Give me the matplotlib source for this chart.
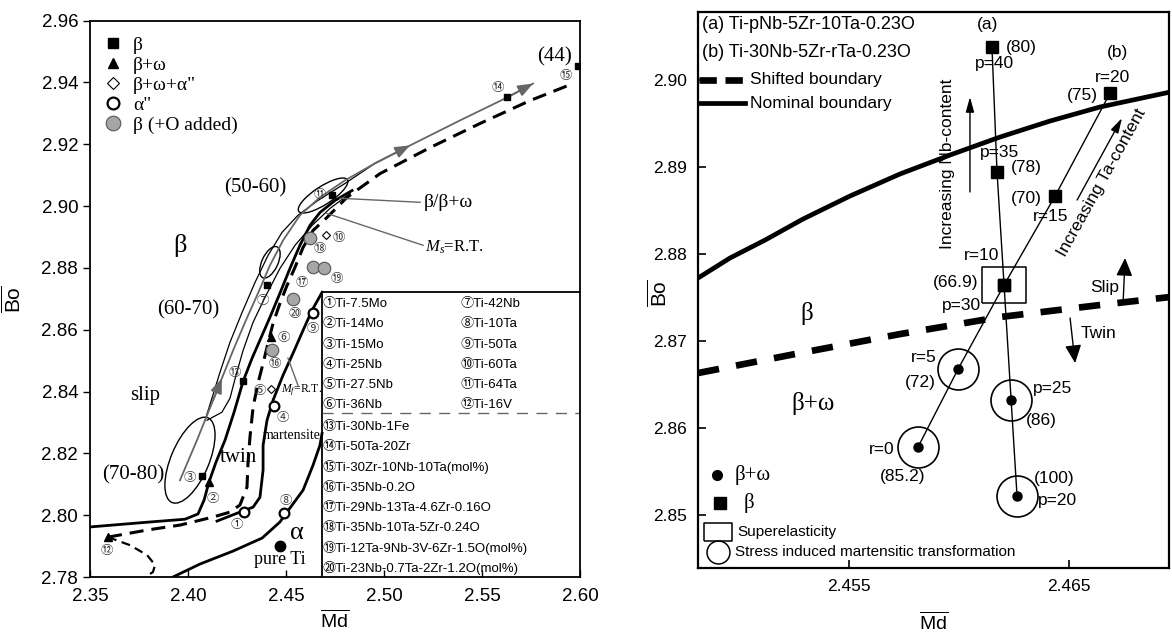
import matplotlib
matplotlib.use('Agg')
import matplotlib.pyplot as plt
from matplotlib.lines import Line2D
from matplotlib.patches import Ellipse
from matplotlib.path import Path
from matplotlib import transforms

plt.rcParams['mathtext.fontset'] = 'custom'
plt.rcParams['mathtext.rm'] = 'Liberation Serif'
plt.rcParams['mathtext.it'] = 'Liberation Serif:italic'
plt.rcParams['mathtext.sf'] = 'Liberation Sans'
plt.rcParams['font.family'] = ['Liberation Sans', 'DejaVu Sans']

SANS = ['Liberation Sans', 'DejaVu Sans']
SERIF = ['Liberation Serif', 'DejaVu Serif']
CIRC = ['Liberation Sans', 'Noto Sans CJK JP']
GRAY = '#666666'

# ---------------- left: Bo-Md map of binary / multi-component alloys ----------------
alloy_no = list(range(1, 21))
alloy_name = ['Ti-7.5Mo', 'Ti-14Mo', 'Ti-15Mo', 'Ti-25Nb', 'Ti-27.5Nb', 'Ti-36Nb',
              'Ti-42Nb', 'Ti-10Ta', 'Ti-50Ta', 'Ti-60Ta', 'Ti-64Ta', 'Ti-16V',
              'Ti-30Nb-1Fe', 'Ti-50Ta-20Zr', 'Ti-30Zr-10Nb-10Ta(mol%)', 'Ti-35Nb-0.2O',
              'Ti-29Nb-13Ta-4.6Zr-0.16O', 'Ti-35Nb-10Ta-5Zr-0.24O',
              'Ti-12Ta-9Nb-3V-6Zr-1.5O(mol%)', 'Ti-23Nb-0.7Ta-2Zr-1.2O(mol%)']
alloy_md = [2.4286, 2.4107, 2.4071, 2.4439, 2.4423, 2.4423, 2.4403, 2.4490, 2.4638, 2.4704,
            2.4735, 2.3592, 2.4281, 2.5628, 2.5990, 2.4429, 2.4638, 2.4622, 2.4694, 2.4536]
alloy_bo = [2.8010, 2.8107, 2.8126, 2.8353, 2.8407, 2.8575, 2.8743, 2.8007, 2.8653, 2.8905,
            2.9037, 2.7929, 2.8433, 2.9351, 2.9454, 2.8533, 2.8802, 2.8895, 2.8798, 2.8698]
alloy_phase = ['a2', 'bw', 'b', 'a2', 'bwa', 'bw', 'b', 'a2', 'a2', 'bwa',
               'b', 'bw', 'b', 'b', 'b', 'bo', 'bo', 'bo', 'bo', 'bo']
pure_ti = (2.4469, 2.7900)

# boundary lines (Md, Bo)
bw_md = [2.3500, 2.3806, 2.3985, 2.4051, 2.4082, 2.4107, 2.4143, 2.4189, 2.4235, 2.4281,
         2.4327, 2.4367, 2.4418, 2.4469, 2.4520, 2.4571, 2.4622, 2.4673, 2.4750, 2.4837]
bw_bo = [2.7962, 2.7978, 2.7987, 2.8004, 2.8049, 2.8107, 2.8172, 2.8243, 2.8333, 2.8433,
         2.8508, 2.8566, 2.8640, 2.8718, 2.8798, 2.8873, 2.8937, 2.8979, 2.9018, 2.9050]
ms_md = [2.3592, 2.3791, 2.3959, 2.4128, 2.4214, 2.4265, 2.4301, 2.4306, 2.4316, 2.4332,
         2.4357, 2.4383, 2.4408, 2.4434, 2.4469, 2.4505, 2.4546, 2.4587, 2.4638, 2.4709,
         2.4811, 2.4980, 2.5235, 2.5490, 2.5745, 2.5964]
ms_bo = [2.7929, 2.7952, 2.7968, 2.7994, 2.8010, 2.8033, 2.8091, 2.8168, 2.8252, 2.8349,
         2.8427, 2.8491, 2.8556, 2.8621, 2.8685, 2.8743, 2.8802, 2.8866, 2.8921, 2.8963,
         2.9028, 2.9105, 2.9189, 2.9267, 2.9341, 2.9396]
nose_md = [2.3592, 2.3704, 2.3791, 2.3832, 2.3821, 2.3781]
nose_bo = [2.7929, 2.7903, 2.7871, 2.7839, 2.7816, 2.7800]
mf_md = [2.4148, 2.4265, 2.4332, 2.4367, 2.4383, 2.4383, 2.4403, 2.4434, 2.4485, 2.4536,
         2.4587, 2.4633, 2.4684]
mf_bo = [2.7981, 2.8010, 2.8026, 2.8058, 2.8146, 2.8226, 2.8307, 2.8372, 2.8453, 2.8524,
         2.8598, 2.8663, 2.8721]
alpha_md = [2.3923, 2.4061, 2.4230, 2.4378, 2.4469, 2.4520, 2.4587, 2.4638, 2.4673, 2.4684]
alpha_bo = [2.7800, 2.7842, 2.7884, 2.7926, 2.7978, 2.8023, 2.8081, 2.8162, 2.8226, 2.8265]
# deformation-mode band and trend line
trend_md = [2.3959, 2.4046, 2.4128, 2.4173, 2.4230, 2.4291, 2.4357, 2.4418, 2.4485, 2.4571,
            2.4673, 2.4801, 2.4954, 2.5133, 2.5388, 2.5628, 2.5760]
trend_bo = [2.8113, 2.8243, 2.8372, 2.8443, 2.8533, 2.8624, 2.8718, 2.8808, 2.8889, 2.8970,
            2.9028, 2.9083, 2.9138, 2.9196, 2.9277, 2.9351, 2.9396]
band1_md = [2.4087, 2.4122, 2.4163, 2.4214, 2.4276, 2.4342, 2.4408, 2.4480, 2.4561, 2.4663,
            2.4801, 2.4954]
band1_bo = [2.8307, 2.8378, 2.8462, 2.8559, 2.8656, 2.8753, 2.8840, 2.8915, 2.8970, 2.9018,
            2.9073, 2.9138]
band2_md = [2.4097, 2.4173, 2.4214, 2.4245, 2.4281, 2.4332, 2.4393, 2.4469, 2.4546, 2.4633,
            2.4724, 2.4827]
band2_bo = [2.8307, 2.8333, 2.8378, 2.8453, 2.8533, 2.8624, 2.8705, 2.8798, 2.8873, 2.8937,
            2.8992, 2.9041]
# e/a ranges and the centres of their outlines
groups = ['(70-80)', '(60-70)', '(50-60)']
group_md = [2.4010, 2.4418, 2.4689]
group_bo = [2.8178, 2.8818, 2.9034]

# ---------------- right: Ti-Nb-Zr-Ta-O series ----------------
a_p = [20, 25, 30, 35, 40]
a_md = [2.46264, 2.46237, 2.46205, 2.46173, 2.46150]
a_bo = [2.85218, 2.86322, 2.87644, 2.88943, 2.90379]
a_val = [100, 86, 66.9, 78, 80]
b_r = [0, 5, 10, 15, 20]
b_md = [2.45814, 2.45996, 2.46205, 2.46437, 2.46687]
b_bo = [2.85782, 2.86678, 2.87644, 2.88667, 2.89851]
b_val = [85.2, 72, 66.9, 70, 75]
a_phase = ['bw', 'bw', 'b', 'b', 'b']
b_phase = ['bw', 'bw', 'b', 'b', 'b']
nominal_md = [2.44814, 2.44959, 2.45119, 2.45291, 2.45505, 2.45732, 2.45959, 2.46187,
              2.46414, 2.46641, 2.46960]
nominal_bo = [2.87724, 2.87954, 2.88161, 2.88402, 2.88667, 2.88920, 2.89138, 2.89345,
              2.89529, 2.89690, 2.89862]
shifted_md = [2.44814, 2.45278, 2.45732, 2.46187, 2.46641, 2.46960]
shifted_bo = [2.86632, 2.86862, 2.87080, 2.87276, 2.87414, 2.87506]

fig = plt.figure(figsize=(11.72, 6.35), dpi=100)
ax1 = fig.add_axes([0.0768, 0.0913, 0.4181, 0.8764])
ax2 = fig.add_axes([0.5956, 0.1055, 0.4019, 0.8756])

# ======== left panel ========
ax = ax1
ax.set_xlim(2.35, 2.60)
ax.set_ylim(2.78, 2.96)
ax.set_xticks([2.35, 2.40, 2.45, 2.50, 2.55, 2.60])
ax.set_yticks([2.78, 2.80, 2.82, 2.84, 2.86, 2.88, 2.90, 2.92, 2.94, 2.96])
ax.xaxis.set_major_formatter(plt.FormatStrFormatter('%.2f'))
ax.yaxis.set_major_formatter(plt.FormatStrFormatter('%.2f'))
ax.tick_params(axis='x', direction='in', length=5, width=1, labelsize=13.5, pad=8)
ax.tick_params(axis='y', direction='out', length=5, width=1, labelsize=13.5)
for s in ax.spines.values():
    s.set_linewidth(1.3)
ax.set_xlabel(r'$\overline{\mathsf{Md}}$', fontsize=14)
ax.xaxis.set_label_coords(0.5, -0.058)
ax.set_ylabel(r'$\overline{\mathsf{Bo}}$', fontsize=15, labelpad=12)

ax.plot(bw_md, bw_bo, color='k', lw=2.0)
ax.plot(ms_md, ms_bo, color='k', lw=2.2, ls=(0, (4.6, 2.6)))
ax.plot(nose_md, nose_bo, color='k', lw=1.6, ls=(0, (4, 2.5)))
ax.plot(mf_md, mf_bo, color='k', lw=2.0)
ax.plot(alpha_md, alpha_bo, color='k', lw=2.0)
ax.plot(band1_md, band1_bo, color='k', lw=0.9)
ax.plot(band2_md, band2_bo, color='k', lw=0.9)
ax.plot(trend_md, trend_bo, color=GRAY, lw=1.3)
for i in (3, 13, 16):
    ax.annotate('', xy=(trend_md[i], trend_bo[i]), xytext=(trend_md[i - 1], trend_bo[i - 1]),
                arrowprops=dict(arrowstyle='-|>,head_length=0.9,head_width=0.35',
                                color=GRAY, lw=1.3, shrinkA=0, shrinkB=0))

# composition-range ellipses, drawn in screen inches around data centres
ell_size = [(0.92, 0.38, 67), (0.34, 0.16, 65), (0.58, 0.18, 33)]
for (w, h, ang), cx, cy in zip(ell_size, group_md, group_bo):
    tr = fig.dpi_scale_trans + transforms.ScaledTranslation(cx, cy, ax.transData)
    ax.add_patch(Ellipse((0, 0), w, h, angle=ang, transform=tr, fill=False, ec='k', lw=1.0))

# legend table of alloys
tx0 = 2.4684
ax.plot([tx0, tx0, 2.60], [2.78, 2.8721, 2.8721], color='k', lw=1.3)
ax.plot([tx0, 2.60], [2.8330, 2.8330], color=GRAY, lw=1.0, ls=(0, (8, 6)))
rows_top = [2.8682 - 0.00652 * k for k in range(6)]
rows_bot = [2.8285 - 0.00652 * k for k in range(8)]
for k in range(6):
    ax.text(tx0 + 0.0003, rows_top[k], chr(0x2460 + k) + alloy_name[k],
            family=CIRC, fontsize=9.5, va='center', ha='left')
    ax.text(2.5388, rows_top[k], chr(0x2460 + 6 + k) + alloy_name[6 + k],
            family=CIRC, fontsize=9.5, va='center', ha='left')
for k in range(8):
    ax.text(tx0 + 0.0003, rows_bot[k], chr(0x2460 + 12 + k) + alloy_name[12 + k],
            family=CIRC, fontsize=9.5, va='center', ha='left')

# alloy points
style = {
    'b': dict(marker='s', ms=5, mfc='k', mec='k'),
    'bw': dict(marker='^', ms=6, mfc='k', mec='k'),
    'bwa': dict(marker='D', ms=4.5, mfc='white', mec='k', mew=0.8),
    'a2': dict(marker='o', ms=7, mfc='white', mec='k', mew=1.6),
    'bo': dict(marker='o', ms=9, mfc='#a6a6a6', mec='#555555', mew=0.8),
}
for ph, st in style.items():
    xs = [m for m, p in zip(alloy_md, alloy_phase) if p == ph]
    ys = [b for b, p in zip(alloy_bo, alloy_phase) if p == ph]
    ax.plot(xs, ys, ls='none', zorder=5, **st)
ax.plot(*pure_ti, marker='o', ms=7.5, color='k', ls='none', zorder=5)

num_off = [(-5, -9), (3, -12), (-9, -1), (6, -8), (-8, -1), (9, 0), (-3, -11), (1.5, 9),
           (0, -11), (9, -1.5), (-9, 0), (-1, -9.5), (-6, 6.5), (-7, 7), (-9, -7),
           (2, -9.5), (-8, -11), (7, -7), (9, -7), (1.5, -10)]
for n, m, b, off in zip(alloy_no, alloy_md, alloy_bo, num_off):
    ax.annotate(chr(0x245F + n), (m, b), xytext=off, textcoords='offset points',
                family=['Noto Sans CJK JP'], fontsize=9, ha='center', va='center',
                color='#333333', zorder=6)

ax.annotate('(44)', (alloy_md[14], alloy_bo[14]), xytext=(-17, 6), textcoords='offset points',
            family=SERIF, fontsize=15, ha='center', va='center')
ax.annotate('pure Ti', pure_ti, xytext=(0, -9.5), textcoords='offset points',
            family=SERIF, fontsize=13, ha='center', va='center')

for txt, x, y, fs in [('(50-60)', 2.4342, 2.9060, 15), ('β', 2.3959, 2.8873, 19),
                      ('(60-70)', 2.4000, 2.8663, 15), ('slip', 2.3781, 2.8388, 15),
                      ('(70-80)', 2.3719, 2.8130, 15), ('twin', 2.4255, 2.8188, 15),
                      ('martensite', 2.4531, 2.8259, 10), ('α', 2.4556, 2.7942, 19)]:
    ax.text(x, y, txt, family=SERIF, fontsize=fs, ha='center', va='center')

ax.plot([2.4776, 2.5184], [2.9025, 2.9012], color=GRAY, lw=1.0)
ax.plot([2.4709, 2.5199], [2.8976, 2.8873], color=GRAY, lw=1.0)
ax.plot([2.4510, 2.4561], [2.8508, 2.8420], color=GRAY, lw=1.0)
ax.text(2.5204, 2.9012, 'β/β+ω', family=SERIF, fontsize=14, va='center')
ax.text(2.5209, 2.8866, r'$M_s$=R.T.', family=SERIF, fontsize=12, va='center')
ax.text(2.4475, 2.8404, r'$M_f$=R.T.', family=SERIF, fontsize=8.5, va='center')

handles = [Line2D([], [], ls='none', marker=style[k]['marker'], ms=style[k]['ms'] + 1.5,
                  mfc=style[k]['mfc'], mec=style[k]['mec'], mew=style[k].get('mew', 1))
           for k in ('b', 'bw', 'bwa', 'a2', 'bo')]
ax.legend(handles, ['β', 'β+ω', 'β+ω+α"', 'α"', 'β (+O added)'], loc='upper left',
          bbox_to_anchor=(0.0, 0.993), frameon=False, prop=dict(family=SERIF, size=14),
          labelspacing=0.12, handletextpad=0.4, handlelength=1.2, borderaxespad=0.2)

# ======== right panel ========
ax = ax2
ax.set_xlim(2.44814, 2.46955)
ax.set_ylim(2.84391, 2.90782)
ax.set_xticks([2.455, 2.465])
ax.set_yticks([2.85, 2.86, 2.87, 2.88, 2.89, 2.90])
ax.xaxis.set_major_formatter(plt.FormatStrFormatter('%.3f'))
ax.yaxis.set_major_formatter(plt.FormatStrFormatter('%.2f'))
ax.tick_params(direction='in', length=6, width=1.2, labelsize=12.5, pad=8)
for s in ax.spines.values():
    s.set_linewidth(1.6)
ax.set_xlabel(r'$\overline{\mathsf{Md}}$', fontsize=14)
ax.xaxis.set_label_coords(0.5, -0.077)
ax.set_ylabel(r'$\overline{\mathsf{Bo}}$', fontsize=15)
ax.yaxis.set_label_coords(-0.058, 0.495)

ax.plot(nominal_md, nominal_bo, color='k', lw=3.4)
ax.plot(shifted_md, shifted_bo, color='k', lw=4.8, ls=(0, (3.2, 2.6)))
ax.plot(a_md, a_bo, color='k', lw=1.0)
ax.plot(b_md, b_bo, color='k', lw=1.0)

box = Path([(-0.5, -0.4), (0.5, -0.4), (0.5, 0.4), (-0.5, 0.4), (-0.5, -0.4)])
key_box = Path([(-0.5, -0.32), (0.5, -0.32), (0.5, 0.32), (-0.5, 0.32), (-0.5, -0.32)])
for md, bo, ph in zip(a_md + b_md, a_bo + b_bo, a_phase + b_phase):
    if ph == 'b':
        ax.plot(md, bo, marker='s', ms=8.5, color='k', ls='none', zorder=5)
    else:
        ax.plot(md, bo, marker='o', ms=6.5, color='k', ls='none', zorder=5)
        ax.plot(md, bo, marker='o', ms=29.5, mfc='none', mec='k', mew=1.2, ls='none', zorder=4)
ax.plot(a_md[2], a_bo[2], marker=box, ms=32, mfc='none', mec='k', mew=1.1, ls='none')

lab = dict(textcoords='offset points', fontsize=12.5, ha='center', va='center', family=SANS)
a_off_val = [(27, 13), (22, -14.5), (-35, 1.5), (21, 3), (21, 0)]
a_off_p = [(29, -3), (30, 8), (-31, -14.5), (1.5, 13.7), (1.5, -11.5)]
for md, bo, p, v, ov, op in zip(a_md, a_bo, a_p, a_val, a_off_val, a_off_p):
    ax.annotate(f'({v:g})', (md, bo), xytext=ov, **lab)
    ax.annotate(f'p={p}', (md, bo), xytext=op, **lab)
b_off_val = [(-11, -21.5), (-27, -9.5), None, (-21, -2), (-20, -1.5)]
b_off_r = [(-26, -2), (-25, 8), (-16, 21.5), (-3.5, -15), (1.5, 11.5)]
for md, bo, r, v, ov, orr in zip(b_md, b_bo, b_r, b_val, b_off_val, b_off_r):
    if ov is not None:
        ax.annotate(f'({v:g})', (md, bo), xytext=ov, **lab)
    ax.annotate(f'r={r}', (md, bo), xytext=orr, **lab)
ax.annotate('(a)', (a_md[-1], a_bo[-1]), xytext=(-3, 16), **lab)
ax.annotate('(b)', (b_md[-1], b_bo[-1]), xytext=(5, 29), **lab)

ax.text(2.45309, 2.87322, 'β', family=SERIF, fontsize=18, ha='center', va='center')
ax.text(2.45337, 2.86287, 'β+ω', family=SERIF, fontsize=18, ha='center', va='center')

thin = dict(arrowstyle='-|>,head_length=0.9,head_width=0.25', color='k', lw=1.0,
            shrinkA=0, shrinkB=0)
bold = dict(arrowstyle='-|>,head_length=1.1,head_width=0.5', color='k', lw=1.0,
            shrinkA=0, shrinkB=0)
ax.annotate('', xy=(2.46050, 2.89805), xytext=(2.46050, 2.88713), arrowprops=thin)
ax.text(2.45946, 2.89034, 'Increasing Nb-content', rotation=90, fontsize=12.5,
        ha='center', va='center')
ax.annotate('', xy=(2.46741, 2.89563), xytext=(2.46537, 2.88621), arrowprops=thin)
ax.text(2.46650, 2.88816, 'Increasing Ta-content', rotation=61, fontsize=12.5,
        ha='center', va='center')
ax.annotate('', xy=(2.46755, 2.87954), xytext=(2.46746, 2.87437), arrowprops=bold)
ax.text(2.46664, 2.87621, 'Slip', fontsize=12.5, ha='center', va='center')
ax.annotate('', xy=(2.46528, 2.86747), xytext=(2.46505, 2.87264), arrowprops=bold)
ax.text(2.46632, 2.87092, 'Twin', fontsize=12.5, ha='center', va='center')

# key, top left
ax.text(0.008, 0.977, '(a) Ti-pNb-5Zr-10Ta-0.23O', transform=ax.transAxes,
        fontsize=13, va='center')
ax.text(0.008, 0.928, '(b) Ti-30Nb-5Zr-rTa-0.23O', transform=ax.transAxes,
        fontsize=13, va='center')
ax.plot([0.003, 0.099], [0.878, 0.878], transform=ax.transAxes, color='k', lw=4.8,
        ls=(0, (2.6, 1.3)), solid_capstyle='butt', dash_capstyle='butt')
ax.text(0.110, 0.878, 'Shifted boundary', transform=ax.transAxes, fontsize=12.5, va='center')
ax.plot([0.003, 0.099], [0.836, 0.836], transform=ax.transAxes, color='k', lw=3.4)
ax.text(0.110, 0.836, 'Nominal boundary', transform=ax.transAxes, fontsize=12.5, va='center')

# key, bottom left
ax.plot(0.040, 0.167, marker='o', ms=7, color='k', transform=ax.transAxes)
ax.text(0.077, 0.167, 'β+ω', transform=ax.transAxes, family=SERIF, fontsize=15, va='center')
ax.plot(0.047, 0.117, marker='s', ms=8, color='k', transform=ax.transAxes)
ax.text(0.097, 0.117, 'β', transform=ax.transAxes, family=SERIF, fontsize=15, va='center')
ax.plot(0.042, 0.065, marker=key_box, ms=19.5, mfc='none', mec='k', mew=1.1,
        transform=ax.transAxes)
ax.text(0.083, 0.065, 'Superelasticity', transform=ax.transAxes, fontsize=11, va='center')
ax.plot(0.042, 0.029, marker='o', ms=16.5, mfc='none', mec='k', mew=1.1,
        transform=ax.transAxes)
ax.text(0.079, 0.029, 'Stress induced martensitic transformation', transform=ax.transAxes,
        fontsize=11, va='center')

fig.savefig('out.png', dpi=100)
